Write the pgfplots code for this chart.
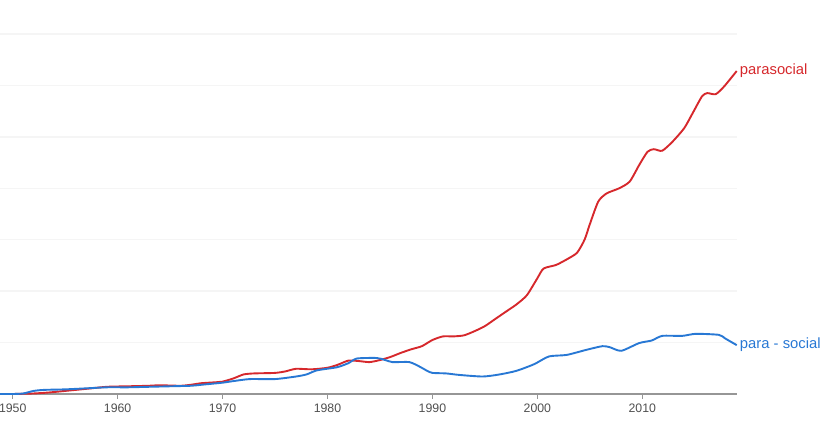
\documentclass[border=0pt]{standalone}
\usepackage{pgfplots}
\pgfplotsset{compat=1.18}
\usepackage{fontspec}
\setmainfont{Liberation Sans}
\definecolor{ngred}{RGB}{214,40,44}
\definecolor{ngblue}{RGB}{40,120,212}
\definecolor{axgray}{RGB}{150,150,150}
\definecolor{ticktext}{RGB}{80,80,80}
\definecolor{gridc}{RGB}{245,245,245}
\begin{document}
\begin{tikzpicture}
\begin{axis}[
  scale only axis,
  width=736.7pt, height=360pt,
  xmin=1948.79, xmax=2019,
  ymin=0, ymax=7,
  clip=false,
  axis lines*=left,
  x axis line style={-, draw=axgray, line width=1.3pt},
  y axis line style={draw=none},
  xtick={1950,1960,...,2010},
  ytick={1,2,...,7},
  yticklabels={},
  ytick style={draw=none},
  xtick style={draw=axgray, line width=1.3pt},
  tick align=outside,
  major tick length=5pt,
  ymajorgrids,
  grid style={color=gridc, line width=1.3pt},
  /pgf/number format/assume math mode=true,
  /pgf/number format/1000 sep={},
  xticklabel style={font=\fontsize{12.3}{14}\selectfont, text=ticktext, yshift=-1.5pt},
]
\coordinate (O) at (rel axis cs:0,0);
\addplot[color=ngred, line width=1.9pt, smooth, tension=0.4] coordinates {
(1948.79,0) (1950,0) (1952,0.01) (1953.5,0.03) (1955,0.06) (1957,0.10) (1959,0.14)
(1961,0.15) (1963,0.16) (1964,0.17) (1966,0.16) (1967,0.18) (1968,0.21) (1969.5,0.23)
(1970,0.24) (1971,0.30) (1972,0.38) (1973,0.40) (1975,0.41) (1976,0.44) (1977,0.49)
(1978.5,0.48) (1980,0.51) (1981,0.57) (1982,0.65) (1983,0.64) (1984,0.62) (1985,0.66)
(1986,0.72) (1987,0.80) (1988,0.87) (1989,0.93) (1990,1.05) (1991,1.12) (1992,1.12)
(1993,1.14) (1994,1.22) (1995,1.32) (1996,1.46) (1997,1.60) (1998,1.74) (1999,1.92)
(2000,2.25) (2000.6,2.44) (2001.8,2.51) (2003,2.64) (2003.8,2.75) (2004.5,3.00)
(2005,3.30) (2005.8,3.74) (2006.6,3.90) (2007.8,4.00) (2008.8,4.13) (2009.7,4.45)
(2010.5,4.71) (2011.1,4.76) (2011.9,4.73) (2012.9,4.91) (2014,5.17) (2014.8,5.46)
(2015.7,5.79) (2016.2,5.85) (2017,5.83) (2017.8,5.98) (2019,6.28)
} node[pos=1, anchor=west, xshift=-1pt, yshift=0pt, text=ngred, font=\fontsize{14.8}{16}\selectfont] {parasocial};
\addplot[color=ngblue, line width=1.9pt, smooth, tension=0.4] coordinates {
(1948.79,0) (1950,0) (1951,0.01) (1952,0.06) (1953,0.08) (1955,0.09) (1957,0.11)
(1959,0.13) (1961,0.13) (1963,0.14) (1965,0.15) (1967,0.16) (1968,0.18) (1970,0.22)
(1971,0.25) (1972.6,0.29) (1975,0.29) (1977,0.34) (1978,0.38) (1979,0.46) (1980.9,0.52)
(1982,0.60) (1982.8,0.69) (1984.7,0.70) (1985.5,0.66) (1986.2,0.62) (1987.8,0.62)
(1988.8,0.53) (1989.5,0.45) (1990,0.41) (1991.3,0.40) (1992.6,0.37) (1994.8,0.34)
(1996.4,0.38) (1998,0.45) (1999.7,0.58) (2001.1,0.73) (2002.8,0.76) (2004.7,0.86)
(2006.2,0.93) (2006.9,0.91) (2008,0.84) (2009.7,0.99) (2010.9,1.04) (2011.9,1.13)
(2013.8,1.13) (2015.1,1.17) (2017.3,1.15) (2017.9,1.08) (2019,0.95)
} node[pos=1, anchor=west, xshift=-1pt, yshift=0pt, text=ngblue, font=\fontsize{14.8}{16}\selectfont] {para - social};
\end{axis}
\pgfresetboundingbox
\path[use as bounding box] ([yshift=-33pt]O) rectangle ++(839pt,427pt);
\end{tikzpicture}
\end{document}
